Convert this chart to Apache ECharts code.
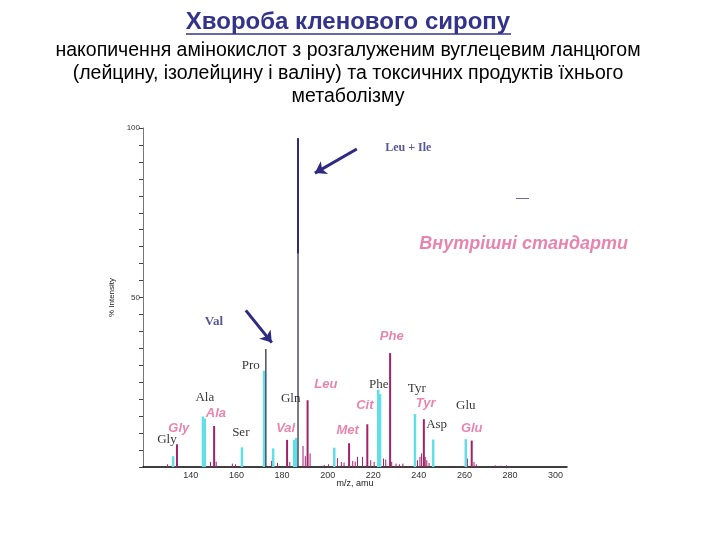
<!DOCTYPE html>
<html>
<head>
<meta charset="utf-8">
<script src="https://cdn.jsdelivr.net/npm/echarts@6/dist/echarts.min.js"></script>
<style>html,body{margin:0;padding:0;background:#fff}#c{width:720px;height:540px}</style>
</head>
<body>
<div id="c"></div>
<script>
// ---- data ----
const xTickLabels = [140, 160, 180, 200, 220, 240, 260, 280, 300];
const yTickLabels = [50, 100];
// analyte peaks (cyan)
const analyteMz  = [132.2, 145.3, 146.1, 162.4, 172.1, 176.1, 185.3, 186.2, 202.9, 222.2, 223.0, 238.3, 246.3, 260.6];
const analyteInt = [3.2, 14.9, 14.3, 5.8, 28.4, 5.5, 8.0, 8.6, 5.7, 22.8, 21.5, 15.6, 8.1, 8.2];
// internal standard peaks (magenta)
const standardMz  = [133.9, 150.2, 182.2, 191.2, 209.4, 217.4, 227.4, 242.2, 263.2];
const standardInt = [6.7, 12.1, 8.0, 19.7, 7.0, 12.6, 33.6, 14.1, 7.8];
// total peaks (dark): Pro, Leu + Ile
const totalMz  = [172.9, 187.0];
const totalInt = [34.8, 97.0];
// upper (highlighted) part of the Leu + Ile peak
const leuIleMz = [187.0];
const leuIleFrom = [63.0];
const leuIleTo = [97.0];
// small background peaks
const noiseMz  = [129.8, 148.6, 151.1, 158.2, 159.6, 175.4, 178.0, 183.4, 189.2, 190.2, 192.3, 198.5, 200.4, 204.3, 206.0, 207.2, 211.0, 212.1, 213.1, 215.3, 218.9, 220.4, 224.5, 225.5, 228.1, 230.0, 231.5, 233.0, 239.4, 240.5, 241.2, 242.8, 243.5, 244.5, 261.3, 264.2, 265.2, 273.5, 276.0, 278.5];
const noiseInt = [0.8, 1.5, 1.6, 1.0, 0.8, 1.8, 1.2, 1.5, 6.2, 3.2, 4.0, 0.6, 0.8, 2.6, 1.5, 1.3, 1.8, 1.6, 3.0, 3.0, 2.0, 1.5, 2.5, 2.2, 1.5, 1.0, 0.8, 1.0, 2.0, 3.0, 4.0, 3.0, 2.0, 1.2, 2.5, 1.5, 0.8, 0.5, 0.4, 0.5];
// labels
const blackLabels = ['Gly', 'Ala', 'Ser', 'Pro', 'Gln', 'Phe', 'Tyr', 'Asp', 'Glu'];
const pinkLabels  = ['Gly', 'Ala', 'Val', 'Leu', 'Met', 'Cit', 'Phe', 'Tyr', 'Glu'];
const titleText = 'Хвороба кленового сиропу';
const subtitleLines = [
  'накопичення амінокислот з розгалуженим вуглецевим ланцюгом',
  '(лейцину, ізолейцину і валіну) та токсичних продуктів їхнього',
  'метаболізму'
];
const standardsText = 'Внутрішні стандарти';
const leuIleText = 'Leu + Ile';
const valText = 'Val';

// ---- styles / layout ----
const CYAN = '#62dfe6', MAG = '#a3206a', DARK = '#222244', NAVY = '#2e2a82', PINK = '#e2679a';
const blackPos = [[129.5, 8.0], [146.1, 20.4], [161.9, 10.1], [166.3, 29.9], [183.8, 20.1], [222.4, 24.3], [239.1, 23.1], [247.8, 12.4], [260.6, 18.0]];
const pinkPos  = [[134.7, 11.5], [151.0, 15.7], [181.6, 11.5], [199.2, 24.3], [208.8, 10.9], [216.3, 18.3], [228.1, 38.5], [243.0, 18.9], [263.2, 11.5]];

function zip(a, b) { return a.map((v, i) => [v, b[i]]); }
function stick(color, width) {
  return function (params, api) {
    const p0 = api.coord([api.value(0), api.value(2) || 0]);
    const p1 = api.coord([api.value(0), api.value(1)]);
    return { type: 'line', shape: { x1: p0[0], y1: p0[1], x2: p1[0], y2: p1[1] },
             style: { stroke: color, lineWidth: width } };
  };
}
const serif = 'Liberation Serif';
const sans = 'Liberation Sans';
const annotations = [];
blackLabels.forEach((t, i) => annotations.push({ value: blackPos[i], label: { formatter: t, color: '#000', fontFamily: serif, fontSize: 13 } }));
pinkLabels.forEach((t, i) => annotations.push({ value: pinkPos[i], label: { formatter: t, color: PINK, fontFamily: sans, fontSize: 13, fontWeight: 'bold', fontStyle: 'italic' } }));
annotations.push({ value: [235.4, 94.1], label: { formatter: leuIleText, color: NAVY, fontFamily: serif, fontSize: 12, fontWeight: 'bold' } });
annotations.push({ value: [150.1, 42.9], label: { formatter: valText, color: NAVY, fontFamily: serif, fontSize: 13, fontWeight: 'bold' } });
annotations.push({ value: [286.0, 65.7], label: { formatter: standardsText, color: PINK, fontFamily: sans, fontSize: 18, fontWeight: 'bold', fontStyle: 'italic' } });
annotations.push({ value: [285.5, 79.2], label: { formatter: '—', color: NAVY, fontFamily: sans, fontSize: 13 } });

const titleGraphics = [
  { type: 'text', x: 348, y: 22, style: { text: titleText, fontFamily: sans, fontSize: 24, fontWeight: 'bold', fill: '#33338c', align: 'center', verticalAlign: 'middle' } },
  { type: 'line', shape: { x1: 186, y1: 34, x2: 511, y2: 34 }, style: { stroke: '#33338c', lineWidth: 1.5 } }
];
subtitleLines.forEach((t, i) => titleGraphics.push({
  type: 'text', x: 348, y: 51 + i * 23,
  style: { text: t, fontFamily: sans, fontSize: 19.5, fill: '#000', align: 'center', verticalAlign: 'middle' }
}));

const chart = echarts.init(document.getElementById('c'), null, { renderer: 'canvas' });
chart.setOption({
  animation: false,
  backgroundColor: '#fff',
  graphic: titleGraphics,
  grid: { left: 143, right: 153, top: 128, bottom: 73 },
  xAxis: {
    type: 'value', min: 119, max: 305,
    name: 'm/z, amu', nameLocation: 'middle', nameGap: 12, nameMoveOverlap: false,
    nameTextStyle: { fontFamily: sans, fontSize: 9, color: '#222', verticalAlign: 'top' },
    axisLine: { lineStyle: { color: '#000', width: 1.5 } },
    axisTick: { show: false },
    splitLine: { show: false },
    axisLabel: { customValues: xTickLabels, fontFamily: sans, fontSize: 9, color: '#333', margin: 4 }
  },
  yAxis: {
    type: 'value', min: 0, max: 100, interval: 5,
    name: '% Intensity', nameLocation: 'middle', nameGap: 22, nameRotate: 90,
    nameTextStyle: { fontFamily: sans, fontSize: 8, color: '#222' },
    axisLine: { show: true, lineStyle: { color: '#777', width: 1 } },
    axisTick: { show: true, length: 4, lineStyle: { color: '#444' } },
    splitLine: { show: false },
    axisLabel: { fontFamily: sans, fontSize: 8, color: '#333', margin: 3,
      formatter: v => (yTickLabels.indexOf(v) >= 0 ? String(v) : '') }
  },
  series: [
    { type: 'custom', renderItem: stick(MAG, 1), data: zip(noiseMz, noiseInt), z: 2 },
    { type: 'custom', renderItem: stick(CYAN, 2.5), data: zip(analyteMz, analyteInt), z: 3 },
    { type: 'custom', renderItem: stick(MAG, 2), data: zip(standardMz, standardInt), z: 4 },
    { type: 'custom', renderItem: stick(DARK, 1.2), data: zip(totalMz, totalInt), z: 5 },
    { type: 'custom', renderItem: stick(NAVY, 2), data: leuIleMz.map((m, i) => [m, leuIleTo[i], leuIleFrom[i]]), z: 5 },
    { type: 'lines', coordinateSystem: 'cartesian2d', z: 6,
      symbol: ['none', 'arrow'], symbolSize: 11,
      lineStyle: { color: NAVY, width: 3, opacity: 1 },
      data: [ { coords: [[212.8, 93.8], [194.4, 86.7]] }, { coords: [[164.1, 46.2], [175.5, 36.7]] } ] },
    { type: 'scatter', symbolSize: 0, z: 10, silent: true,
      label: { show: true, position: 'inside' },
      data: annotations }
  ]
});
</script>
</body>
</html>
